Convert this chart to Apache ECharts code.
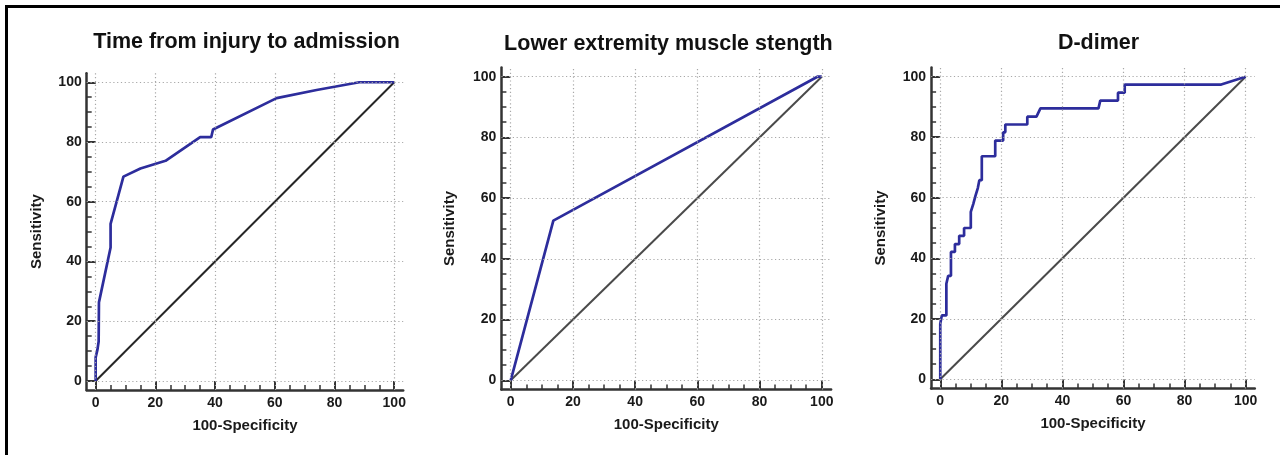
<!DOCTYPE html>
<html>
<head>
<meta charset="utf-8">
<script src="https://cdn.jsdelivr.net/npm/echarts@6/dist/echarts.min.js"></script>
<style>
  html, body { margin: 0; padding: 0; background: #fff; }
  #frame { position: absolute; left: 5px; top: 5px; width: 1275px; height: 450px;
           border-left: 3px solid #000; border-top: 3px solid #000; box-sizing: border-box; }
  #chart { position: absolute; left: 0; top: 0; width: 1280px; height: 455px; }
</style>
</head>
<body>
<div id="frame"></div>
<div id="chart"></div>
<script>
const titles = ['Time from injury to admission', 'Lower extremity muscle stength', 'D-dimer'];
const majorTicks = [0, 20, 40, 60, 80, 100];
const minorTicks = [0, 5, 10, 15, 20, 25, 30, 35, 40, 45, 50, 55, 60, 65, 70, 75, 80, 85, 90, 95, 100];
const refX = [0, 100];
const refY = [0, 100];

// 100-Specificity / Sensitivity
const timeFpr = [0, 0, 0.4, 0.6, 1, 1.1, 5, 5, 9.3, 15, 23.4, 35, 38.7, 39.3, 60.6, 74, 88.3, 100];
const timeTpr = [0, 7.9, 7.9, 10.5, 13.2, 26.3, 44.7, 52.6, 68.4, 71.1, 73.7, 81.6, 81.6, 84.2, 94.7, 97.4, 100, 100];

const strengthFpr = [0, 13.7, 98.6, 100];
const strengthTpr = [0, 52.6, 100, 100];

const dimerFpr = [0, 0, 0.5, 0.5, 2, 2, 2.6, 2.6, 3.5, 3.5, 4.8, 4.8, 6.2, 6.2, 7.8, 7.8, 10, 10, 10.6, 10.8, 11.5, 12.3,
  12.8, 12.8, 13.6, 13.6, 18, 18, 20.6, 20.6, 21.3, 21.3, 28.5, 28.5, 31.5, 32.8, 51.8, 52.4, 58.2, 58.2, 60.4, 60.4, 92, 100];
const dimerTpr = [0, 18.4, 18.4, 21.1, 21.1, 31.6, 31.6, 34.2, 34.2, 42.1, 42.1, 44.7, 44.7, 47.4, 47.4, 50, 50, 55.3, 55.3, 57.9, 60.5, 63.2,
  63.2, 65.8, 65.8, 73.7, 73.7, 78.9, 78.9, 81.6, 81.6, 84.2, 84.2, 86.8, 86.8, 89.5, 89.5, 92.1, 92.1, 94.7, 94.7, 97.4, 97.4, 100];

const curves = [[timeFpr, timeTpr], [strengthFpr, strengthTpr], [dimerFpr, dimerTpr]];

const FONT = '"Liberation Sans", Arial, Helvetica, sans-serif';
const panels = [
  { left: 86.7, top: 73.3, width: 316.5, height: 316.6, titleX: 241.5, titleY: 26, diag: '#262626', yGap: 42 },
  { left: 501.4, top: 67.6, width: 329.7, height: 321.8, titleX: 663.4, titleY: 28, diag: '#4a4a4a', yGap: 44 },
  { left: 931.1, top: 67.6, width: 323.7, height: 320.8, titleX: 1093.5, titleY: 27, diag: '#4a4a4a', yGap: 43 },
];

const zip = (a, b) => a.map((v, i) => [v, b[i]]);

const grid = [], xAxis = [], yAxis = [], series = [], title = [];
panels.forEach((p, g) => {
  grid.push({ left: p.left, top: p.top, width: p.width, height: p.height });
  title.push({
    text: titles[g], left: p.titleX, top: p.titleY, textAlign: 'center',
    textStyle: { fontFamily: FONT, fontSize: 21.5, fontWeight: 'bold', color: '#111' },
  });
  const label = { fontFamily: FONT, fontSize: 14, fontWeight: 'bold', color: '#1a1a1a' };
  const axisLine = { show: true, onZero: false, lineStyle: { color: '#333', width: 2.5 } };
  xAxis.push({
    type: 'value', gridIndex: g, min: -3, max: 103, position: 'bottom',
    name: '100-Specificity', nameLocation: 'middle', nameGap: 28,
    nameTextStyle: { fontFamily: FONT, fontSize: 15, fontWeight: 'bold', color: '#1a1a1a' },
    axisLine,
    axisTick: { show: true, inside: true, length: 9, customValues: majorTicks, lineStyle: { color: '#333', width: 2 } },
    axisLabel: { ...label, margin: 6, customValues: majorTicks },
    splitLine: { show: false },
  });
  xAxis.push({
    type: 'value', gridIndex: g, min: -3, max: 103, position: 'bottom',
    axisLine: { show: false, onZero: false },
    axisTick: { show: true, inside: true, length: 5, customValues: minorTicks, lineStyle: { color: '#333', width: 1.5 } },
    axisLabel: { show: false }, splitLine: { show: false },
  });
  yAxis.push({
    type: 'value', gridIndex: g, min: -3, max: 103, position: 'left',
    name: 'Sensitivity', nameLocation: 'middle', nameGap: p.yGap,
    nameTextStyle: { fontFamily: FONT, fontSize: 15, fontWeight: 'bold', color: '#1a1a1a' },
    axisLine,
    axisTick: { show: true, inside: true, length: 9, customValues: majorTicks, lineStyle: { color: '#333', width: 2 } },
    axisLabel: { ...label, margin: 5, customValues: majorTicks },
    splitLine: { show: false },
  });
  yAxis.push({
    type: 'value', gridIndex: g, min: -3, max: 103, position: 'left',
    axisLine: { show: false, onZero: false },
    axisTick: { show: true, inside: true, length: 5, customValues: minorTicks, lineStyle: { color: '#333', width: 1.5 } },
    axisLabel: { show: false }, splitLine: { show: false },
  });

  // dotted grid through the library's scales
  series.push({
    type: 'line', xAxisIndex: 2 * g, yAxisIndex: 2 * g, data: [], z: 1, silent: true,
    markLine: {
      silent: true, symbol: 'none', label: { show: false }, animation: false,
      lineStyle: { color: '#a8a8a8', width: 1.2, type: [1.2, 2.6] },
      data: majorTicks.map(v => ({ xAxis: v })).concat(majorTicks.map(v => ({ yAxis: v }))),
    },
  });
  series.push({
    type: 'line', xAxisIndex: 2 * g, yAxisIndex: 2 * g, data: zip(refX, refY), z: 2,
    symbol: 'none', lineStyle: { color: p.diag, width: 2 }, animation: false,
  });
  series.push({
    type: 'line', xAxisIndex: 2 * g, yAxisIndex: 2 * g, data: zip(curves[g][0], curves[g][1]), z: 3,
    symbol: 'none', lineStyle: { color: '#2d2d9c', width: 2.7 }, animation: false,
  });
});

const chart = echarts.init(document.getElementById('chart'));
chart.setOption({ animation: false, title, grid, xAxis, yAxis, series });
</script>
</body>
</html>
